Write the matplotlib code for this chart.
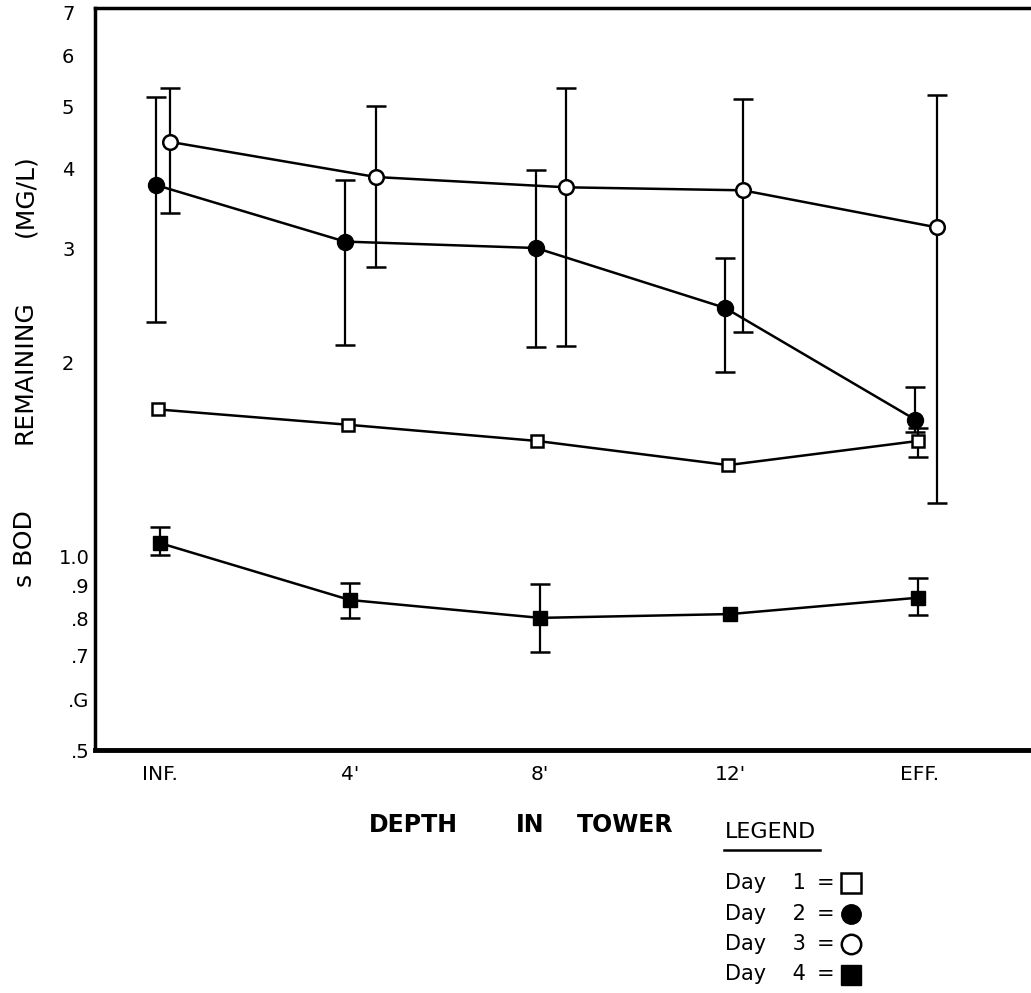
import matplotlib
matplotlib.use("Agg")
import matplotlib.pyplot as plt
from matplotlib.lines import Line2D
from matplotlib.transforms import ScaledTranslation
import numpy as np

# depth positions along the tower
depths = ["INF.", "4'", "8'", "12'", "EFF."]

# BOD remaining (mg/L), with error bar ends (None = no bar)
day1 = [1.69, 1.60, 1.51, 1.385, 1.51]
day1_lo = [None, None, None, None, 1.425]
day1_hi = [None, None, None, None, 1.58]

day2 = [3.77, 3.08, 3.01, 2.43, 1.63]
day2_lo = [2.31, 2.13, 2.11, 1.93, 1.56]
day2_hi = [5.16, 3.84, 3.98, 2.90, 1.83]

day3 = [4.40, 3.88, 3.74, 3.70, 3.24]
day3_lo = [3.41, 2.81, 2.12, 2.23, 1.21]
day3_hi = [5.33, 5.00, 5.34, 5.13, 5.20]

day4 = [1.048, 0.855, 0.802, 0.813, 0.862]
day4_lo = [1.004, 0.802, 0.709, None, 0.81]
day4_hi = [1.11, 0.908, 0.906, None, 0.925]

ytick_vals = [0.5, 0.6, 0.7, 0.8, 0.9, 1.0, 2, 3, 4, 5, 6, 7]
ytick_labels = [".5", ".G", ".7", ".8", ".9", "1.0", "2", "3", "4", "5", "6", "7"]

# small horizontal shifts each series had in the original drawing
shift1 = [-0.01, -0.01, -0.016, -0.01, -0.01]
shift2 = [-0.02, -0.026, -0.02, -0.026, -0.026]
shift3 = [0.053, 0.137, 0.137, 0.068, 0.09]
shift4 = [0.0, 0.0, 0.0, 0.0, -0.01]

fig = plt.figure(figsize=(10.31, 9.93), dpi=100)
ax = fig.add_axes([0.0921, 0.2447, 0.9079, 0.7472])
ax.set_yscale("log")
ax.set_ylim(0.5, 7.1)
ax.set_xlim(-0.342, 4.584)

idx = np.arange(len(depths))

series = [
    (day1, day1_lo, day1_hi, shift1, dict(marker="s", ms=9, mfc="white", mec="black", mew=1.8)),
    (day2, day2_lo, day2_hi, shift2, dict(marker="o", ms=11.5, mfc="black", mec="black")),
    (day3, day3_lo, day3_hi, shift3, dict(marker="o", ms=10.5, mfc="white", mec="black", mew=1.8)),
    (day4, day4_lo, day4_hi, shift4, dict(marker="s", ms=10, mfc="black", mec="black")),
]

for vals, lo, hi, sh, style in series:
    x = idx + np.array(sh)
    for xi, v, l, h in zip(x, vals, lo, hi):
        if l is None:
            continue
        ax.errorbar([xi], [v], yerr=[[v - l], [h - v]], fmt="none",
                    ecolor="black", elinewidth=1.6, capsize=7, capthick=1.8, zorder=2)
    ax.plot(x, vals, color="black", lw=1.8, zorder=3, **style)

ax.set_yticks(ytick_vals)
ax.set_yticklabels(ytick_labels, fontsize=14)
ax.yaxis.set_minor_locator(matplotlib.ticker.NullLocator())
ax.set_xticks(idx)
ax.set_xticklabels(depths, fontsize=14.5)
ax.tick_params(axis="both", length=0)
ax.tick_params(axis="y", pad=4)
ax.tick_params(axis="x", pad=11)

# whole numbers sit further left than the decimal labels
for lab, v in zip(ax.get_yticklabels(), ytick_vals):
    if v >= 2:
        lab.set_transform(lab.get_transform() + ScaledTranslation(-0.15, 0, fig.dpi_scale_trans))

ax.spines["right"].set_visible(False)
for s in ["left", "top"]:
    ax.spines[s].set_linewidth(2.5)
ax.spines["bottom"].set_linewidth(3.5)

# y label drawn as three separate pieces, as in the original
for txt, yc in [("(MG/L)", 196), ("REMAINING", 372), ("s BOD", 549)]:
    fig.text(25 / 1031, 1 - yc / 993, txt, rotation=90, ha="center", va="center", fontsize=18)

for txt, xc in [("DEPTH", 413), ("IN", 530), ("TOWER", 625)]:
    fig.text(xc / 1031, 1 - 825 / 993, txt, ha="center", va="center",
             fontsize=17, fontweight="bold")

# legend block below the axes
fig.text(725 / 1031, 1 - 832 / 993, "LEGEND", ha="left", va="center", fontsize=16)
fig.add_artist(Line2D([724 / 1031, 820 / 1031], [1 - 850 / 993, 1 - 850 / 993],
                      color="black", lw=1.8))
labels = ["Day    1", "Day    2", "Day    3", "Day    4"]
for i, (lab, s) in enumerate(zip(labels, series)):
    yy = 1 - (883 + i * 30.5) / 993
    fig.text(725 / 1031, yy, lab, ha="left", va="center", fontsize=15)
    fig.text(826 / 1031, yy, "=", ha="center", va="center", fontsize=15)
    st = dict(s[4])
    st["ms"] = 14
    fig.add_artist(Line2D([851 / 1031], [yy], color="black", lw=0, **st))

fig.savefig("out.png", dpi=100)
